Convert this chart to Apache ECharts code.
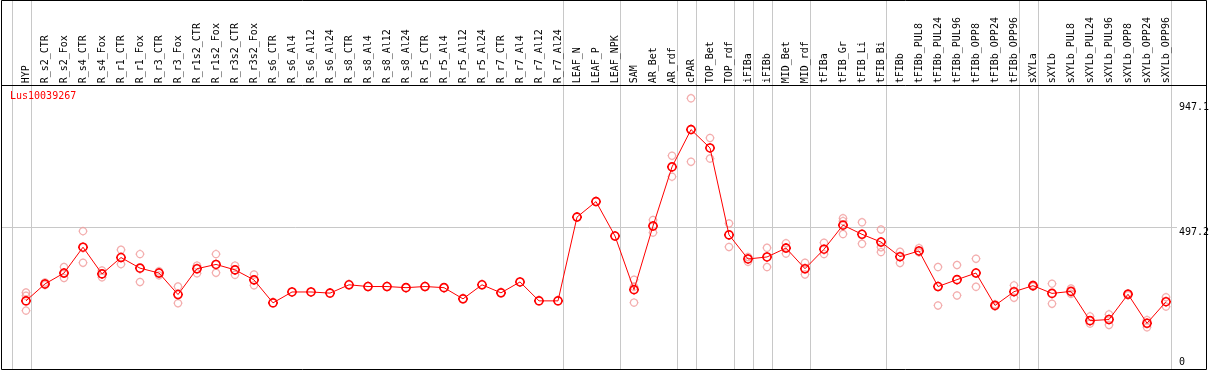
<!DOCTYPE html>
<html>
<head>
<meta charset="utf-8">
<script src="https://cdn.jsdelivr.net/npm/echarts@6/dist/echarts.min.js"></script>
<style>
html,body{margin:0;padding:0;background:#fff;}
#chart{width:1209px;height:370px;}
</style>
</head>
<body>
<div id="chart"></div>
<script>
const geneName = 'Lus10039267';
const categories = ['HYP','R_s2_CTR','R_s2_Fox','R_s4_CTR','R_s4_Fox','R_r1_CTR','R_r1_Fox','R_r3_CTR','R_r3_Fox','R_r1s2_CTR','R_r1s2_Fox','R_r3s2_CTR','R_r3s2_Fox','R_s6_CTR','R_s6_Al4','R_s6_Al12','R_s6_Al24','R_s8_CTR','R_s8_Al4','R_s8_Al12','R_s8_Al24','R_r5_CTR','R_r5_Al4','R_r5_Al12','R_r5_Al24','R_r7_CTR','R_r7_Al4','R_r7_Al12','R_r7_Al24','LEAF_N','LEAF_P','LEAF_NPK','SAM','AR_Bet','AR_rdf','cPAR','TOP_Bet','TOP_rdf','iFIBa','iFIBb','MID_Bet','MID_rdf','tFIBa','tFIB_Gr','tFIB_Li','tFIB_Bi','tFIBb','tFIBb_PUL8','tFIBb_PUL24','tFIBb_PUL96','tFIBb_OPP8','tFIBb_OPP24','tFIBb_OPP96','sXYLa','sXYLb','sXYLb_PUL8','sXYLb_PUL24','sXYLb_PUL96','sXYLb_OPP8','sXYLb_OPP24','sXYLb_OPP96'];
const meanValues = [241,300,338,428,335,392,355,338,263,353,368,349,314,234,272,272,268,297,291,291,287,291,287,248,297,269,307,241,241,533,587,467,280,502,708,838,774,471,387,394,425,353,421,505,473,446,395,415,291,315,338,225,273,294,267,274,172,176,264,163,238];
const replicateValues = [[270,259,207],[305,296],[359,321,336],[484,374],[347,323],[419,369],[404,307],[344,330],[291,233],[364,337],[404,339],[364,332],[333,295],[],[],[],[],[],[],[],[],[],[],[],[],[],[],[],[],[],[],[],[315,290,235],[523,479],[747,674],[947.1,726],[809,737],[511,429],[394,377],[426,359],[442,406],[374,333],[444,404],[529,519,474],[515,440],[490,428,411],[412,373],[425,410],[359,225],[366,260],[388,290],[229,222],[295,252],[297,291],[301,231],[284,266],[187,162],[194,157],[267,261],[174,149],[254,221]];
const tickLabels = ['947.1','497.2','0'];
const groupBreaks = [-1,0,28,31,34,35,37,38,39,41,45,52,53,60];

const markerPath = 'path://M9,5C9,7.209,7.209,9,5,9C2.791,9,1,7.209,1,5C1,2.791,2.791,1,5,1C7.209,1,9,2.791,9,5ZM5,0L5,1M5,9L5,10M0,5L1,5M9,5L10,5';
const mono = 'DejaVu Sans Mono';

const chart = echarts.init(document.getElementById('chart'), null, {renderer:'canvas'});

const repData = [];
replicateValues.forEach((arr, i) => arr.forEach(v => repData.push([i, v])));
const meanData = meanValues.map((v, i) => [i, v]);

chart.setOption({
  animation: false,
  backgroundColor: '#fff',
  title: {
    text: geneName, left: 10, top: 91, padding: 0,
    textStyle: {color: '#ff0000', fontSize: 10, fontWeight: 'normal', fontFamily: mono}
  },
  grid: {left: 26, right: 43, top: 98.3, height: 273.7, containLabel: false},
  xAxis: {
    type: 'value', min: 0, max: 60, interval: 1, position: 'top',
    axisLine: {show: false}, axisTick: {show: false}, splitLine: {show: false},
    axisLabel: {
      formatter: v => categories[v] || '', rotate: 90, margin: 15,
      fontFamily: mono, fontSize: 10, color: '#000', hideOverlap: false,
      showMinLabel: true, showMaxLabel: true
    }
  },
  yAxis: {type: 'value', min: 0, max: 947.1, show: false, splitLine: {show: false}},
  series: [
    {
      type: 'scatter', data: repData, symbol: markerPath, symbolSize: 9,
      itemStyle: {color: 'rgba(255,255,255,0)', borderColor: '#f09898', borderWidth: 1.2},
      clip: false, z: 2, silent: true
    },
    {
      type: 'line', data: meanData, symbol: markerPath, symbolSize: 10,
      showSymbol: true, showAllSymbol: true,
      lineStyle: {color: '#ff0000', width: 1},
      itemStyle: {color: 'rgba(255,255,255,0)', borderColor: '#ff0000', borderWidth: 1.6},
      clip: false, z: 3, silent: true
    }
  ]
});

const p0 = chart.convertToPixel({gridIndex: 0}, [0, 0]);
const p1 = chart.convertToPixel({gridIndex: 0}, [1, 497.2]);
const step = p1[0] - p0[0];
const gridY = Math.round(p1[1]) + 0.5;
const graphics = [];
groupBreaks.forEach(b => {
  const x = Math.round(p0[0] + (b + 0.24) * step) + 0.5;
  graphics.push({type: 'line', z: 0, shape: {x1: x, y1: 1, x2: x, y2: 369}, style: {stroke: '#c8c8c8', lineWidth: 1}});
});
graphics.push({type: 'line', z: 0, shape: {x1: 2, y1: gridY, x2: 1177, y2: gridY}, style: {stroke: '#c8c8c8', lineWidth: 1}});
graphics.push({type: 'rect', z: 1, shape: {x: 1.5, y: 0.5, width: 1205, height: 369}, style: {fill: null, stroke: '#000', lineWidth: 1}});
graphics.push({type: 'line', z: 1, shape: {x1: 1.5, y1: 85.5, x2: 1206.5, y2: 85.5}, style: {stroke: '#000', lineWidth: 1}});
const labelY = [107, 232, 362];
tickLabels.forEach((t, k) => {
  graphics.push({type: 'text', z: 5, x: 1179, y: labelY[k], style: {text: t, fill: '#000', font: '10px "DejaVu Sans Mono"', textVerticalAlign: 'middle', textAlign: 'left'}});
});
chart.setOption({graphic: graphics});
</script>
</body>
</html>
